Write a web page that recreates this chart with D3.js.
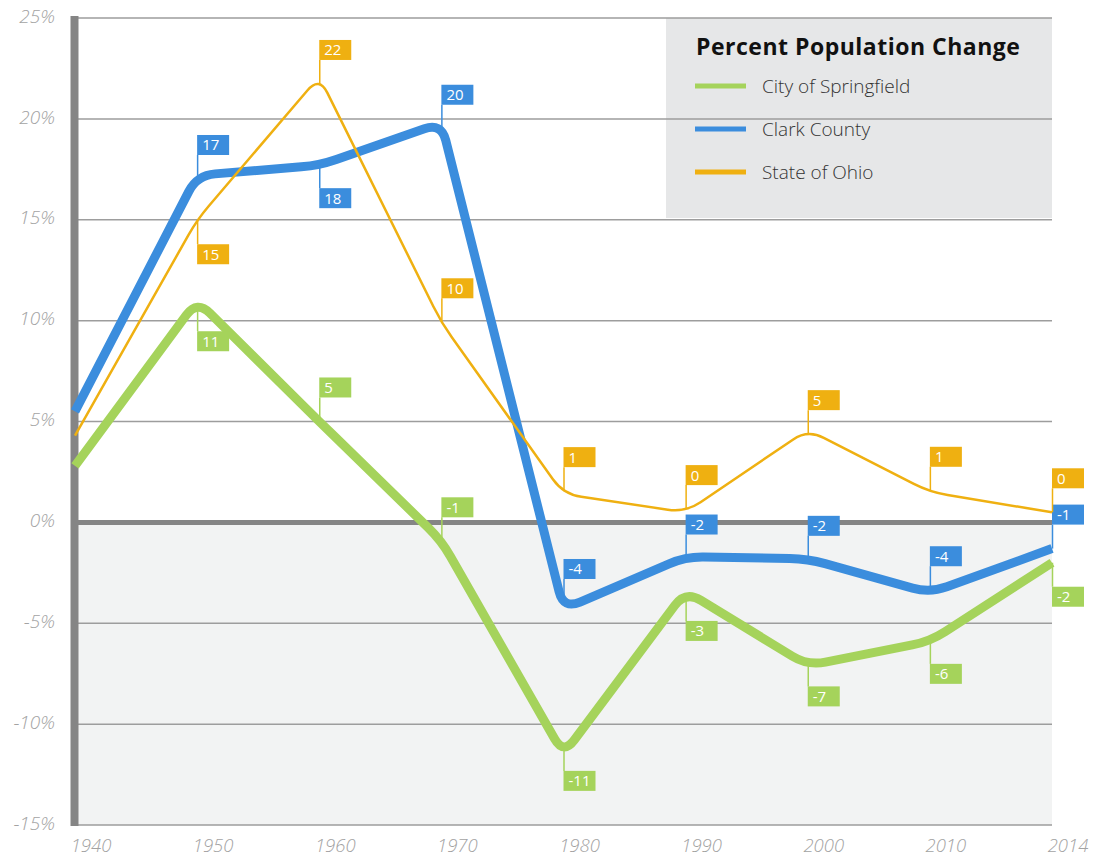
<!DOCTYPE html>
<html>
<head>
<meta charset="utf-8">
<script src="https://cdn.jsdelivr.net/npm/d3@7"></script>
<style>
  body { margin: 0; background: #fff; }
  text { font-family: "Open Sans", "DejaVu Sans", sans-serif; }
</style>
</head>
<body>
<svg id="chart"></svg>
<script>
var years = ["1940", "1950", "1960", "1970", "1980", "1990", "2000", "2010", "2014"];
var yTicks = [-15, -10, -5, 0, 5, 10, 15, 20, 25];

var springfield = [2.8, 11.0, 5.0, -0.9, -11.5, -3.4, -7.1, -5.9, -2.0];
var clark = [5.5, 17.2, 17.7, 19.8, -4.3, -1.7, -1.8, -3.5, -1.3];
var ohio = [4.3, 15.0, 22.1, 9.9, 1.4, 0.5, 4.6, 1.5, 0.5];

var springfieldLabels = ["", "11", "5", "-1", "-11", "-3", "-7", "-6", "-2"];
var clarkLabels = ["", "17", "18", "20", "-4", "-2", "-2", "-4", "-1"];
var ohioLabels = ["", "15", "22", "10", "1", "0", "5", "1", "0"];

// 1 = flag above the point, -1 = below
var springfieldSide = [0, -1, 1, 1, -1, -1, -1, -1, -1];
var clarkSide = [0, 1, -1, 1, 1, 1, 1, 1, 1];
var ohioSide = [0, -1, 1, 1, 1, 1, 1, 1, 1];

var seriesNames = ["City of Springfield", "Clark County", "State of Ohio"];
var seriesColors = ["#a5d35b", "#3b8ddd", "#efb011"];

var w = 1097, h = 858;
var svg = d3.select("#chart").attr("width", w).attr("height", h);

var x = d3.scalePoint().domain(years).range([75, 1052]);
var y = d3.scaleLinear().domain([-15, 25]).range([825, 18]);
var R = 18;

// shaded area below zero
svg.append("rect")
    .attr("x", 78).attr("y", y(0))
    .attr("width", 1052 - 78).attr("height", y(-15) - y(0))
    .attr("fill", "#f2f3f3");

// legend box
svg.append("rect")
    .attr("x", 666).attr("y", y(25))
    .attr("width", 1052 - 666).attr("height", 200)
    .attr("fill", "#e6e7e8");

// grid
svg.append("g").selectAll("line")
.data(yTicks.filter(function(d){return d != 0;}))
.enter()
.append("line")
    .attr("x1", 78).attr("x2", 1052)
    .attr("y1", function(d){return y(d);})
    .attr("y2", function(d){return y(d);})
    .attr("stroke", "#9d9d9d")
    .attr("stroke-width", 1.5);

svg.append("line")
    .attr("x1", 78).attr("x2", 1052)
    .attr("y1", y(0)).attr("y2", y(0))
    .attr("stroke", "#858585")
    .attr("stroke-width", 5);

svg.append("line")
    .attr("x1", 74.5).attr("x2", 74.5)
    .attr("y1", y(25) - 2).attr("y2", y(-15) + 1)
    .attr("stroke", "#858585")
    .attr("stroke-width", 8);

// y labels
svg.append("g").selectAll("text")
.data(yTicks)
.enter()
.append("text")
    .attr("x", 55)
    .attr("y", function(d){return y(d) - 2;})
    .attr("dy", "0.35em")
    .attr("text-anchor", "end")
    .attr("font-size", 19)
    .attr("font-style", "italic")
    .attr("font-weight", 300)
    .attr("fill", "#a3a3a3")
    .text(function(d){return d + "%";});

// x labels
svg.append("g").selectAll("text")
.data(years)
.enter()
.append("text")
    .attr("x", function(d){return x(d) + 16;})
    .attr("y", 846)
    .attr("dy", "0.35em")
    .attr("text-anchor", "middle")
    .attr("font-size", 18.5)
    .attr("font-style", "italic")
    .attr("font-weight", 300)
    .attr("fill", "#a3a3a3")
    .text(function(d){return d;});

// straight segments, rounded corners
function cornerPts(a, b, c, r) {
  var l1 = Math.hypot(b[0]-a[0], b[1]-a[1]), l2 = Math.hypot(c[0]-b[0], c[1]-b[1]);
  var k1 = Math.min(r, l1/2)/l1, k2 = Math.min(r, l2/2)/l2;
  return [[b[0] - (b[0]-a[0])*k1, b[1] - (b[1]-a[1])*k1],
          [b[0] + (c[0]-b[0])*k2, b[1] + (c[1]-b[1])*k2]];
}
function roundedPath(pts, r) {
  var p = d3.path();
  p.moveTo(pts[0][0], pts[0][1]);
  for (var i = 1; i < pts.length - 1; i++) {
    var cp = cornerPts(pts[i-1], pts[i], pts[i+1], r);
    p.lineTo(cp[0][0], cp[0][1]);
    p.quadraticCurveTo(pts[i][0], pts[i][1], cp[1][0], cp[1][1]);
  }
  var last = pts[pts.length-1];
  p.lineTo(last[0], last[1]);
  return p.toString();
}
// y where the rounded curve passes near the vertex
function curveY(pts, i, r) {
  if (i <= 0 || i >= pts.length - 1) return pts[i][1];
  var cp = cornerPts(pts[i-1], pts[i], pts[i+1], r);
  return 0.25*cp[0][1] + 0.5*pts[i][1] + 0.25*cp[1][1];
}

var series = [
  {vals: springfield, labels: springfieldLabels, side: springfieldSide, color: seriesColors[0], width: 9},
  {vals: clark, labels: clarkLabels, side: clarkSide, color: seriesColors[1], width: 9},
  {vals: ohio, labels: ohioLabels, side: ohioSide, color: seriesColors[2], width: 2.5}
];

series.forEach(function(s){
  s.pts = s.vals.map(function(v, i){return [x(years[i]), y(v)];});
  svg.append("path")
      .attr("d", roundedPath(s.pts, R))
      .attr("fill", "none")
      .attr("stroke", s.color)
      .attr("stroke-width", s.width)
      .attr("stroke-linejoin", "round");
});

// flags
series.forEach(function(s){
  var flags = s.vals.map(function(v, i){return {i: i, label: s.labels[i], side: s.side[i], cy: curveY(s.pts, i, R)};})
    .filter(function(d){return d.label !== "";});
  var g = svg.append("g").selectAll("g")
  .data(flags)
  .enter()
  .append("g")
      .attr("transform", function(d){return "translate(" + x(years[d.i]) + "," + d.cy + ")";});
  g.append("line")
      .attr("x1", 0.5).attr("x2", 0.5)
      .attr("y1", 0)
      .attr("y2", function(d){return d.side > 0 ? -24 : 24;})
      .attr("stroke", s.color)
      .attr("stroke-width", 1.5);
  g.append("rect")
      .attr("x", 0)
      .attr("y", function(d){return d.side > 0 ? -44 : 24;})
      .attr("width", 32).attr("height", 20)
      .attr("fill", s.color);
  g.append("text")
      .attr("x", 5)
      .attr("y", function(d){return d.side > 0 ? -28.5 : 39.5;})
      .attr("font-size", 15)
      .attr("fill", "#fff")
      .text(function(d){return d.label;});
});

// legend
svg.append("text")
    .attr("x", 696).attr("y", 55)
    .attr("font-size", 23)
    .attr("font-weight", 700)
    .attr("letter-spacing", 0.5)
    .attr("fill", "#111")
    .text("Percent Population Change");

var leg = svg.append("g").selectAll("g")
.data(seriesNames)
.enter()
.append("g")
    .attr("transform", function(d, i){return "translate(695," + (86 + i*43) + ")";});
leg.append("line")
    .attr("x1", 0).attr("x2", 51)
    .attr("stroke", function(d, i){return seriesColors[i];})
    .attr("stroke-width", 5);
leg.append("text")
    .attr("x", 67)
    .attr("dy", "0.35em")
    .attr("font-size", 19)
    .attr("font-weight", 300)
    .attr("fill", "#333")
    .text(function(d){return d;});
</script>
</body>
</html>
